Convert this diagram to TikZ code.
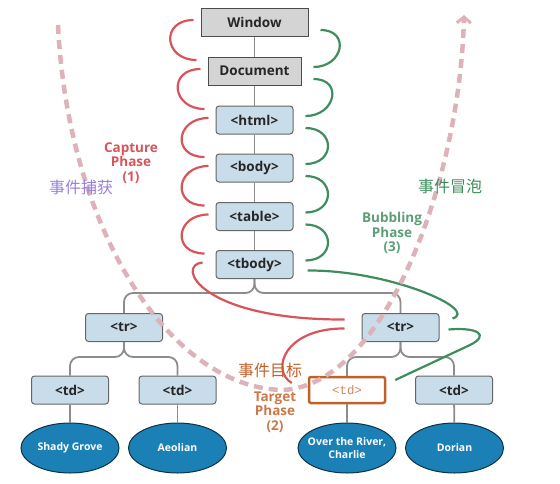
\documentclass[tikz,border=0pt]{standalone}
\usepackage{fontspec}
\setmainfont{Open Sans}
\setmonofont{Liberation Mono}
\newfontfamily\cjk{Noto Sans CJK SC}
\usetikzlibrary{shapes.geometric,arrows.meta}
\definecolor{capred}{HTML}{D9535A}
\definecolor{bubgreen}{HTML}{3F8D5E}
\definecolor{linegray}{HTML}{8C8C8C}
\definecolor{boxblue}{HTML}{C9DCEA}
\definecolor{boxgray}{HTML}{D4D4D4}
\definecolor{leafblue}{HTML}{1B80B5}
\definecolor{targetorange}{HTML}{C2602A}
\definecolor{flowpink}{HTML}{DDB2B8}
\definecolor{purplelabel}{HTML}{9A80E0}
\begin{document}
\begin{tikzpicture}[x=1pt,y=-1pt,
    winbox/.style={draw=black!70,fill=boxgray,line width=1pt,minimum height=28pt,
      text=black!85,font=\bfseries\fontsize{13.5}{15}\selectfont},
    tagbox/.style={draw=black!60,fill=boxblue,line width=1pt,rounded corners=3pt,
      minimum width=77pt,minimum height=28pt,text=black!85,
      font=\bfseries\fontsize{13.5}{15}\selectfont},
    target/.style={draw=targetorange,fill=white,line width=2.5pt,rounded corners=2pt,
      minimum width=76pt,minimum height=26pt,text=targetorange!75,
      font=\ttfamily\fontsize{12.5}{14}\selectfont},
    leaf/.style={ellipse,draw=black!60!leafblue,fill=leafblue,line width=1pt,
      minimum width=98pt,minimum height=50pt,inner xsep=-6pt,inner ysep=2pt,
      text=white,align=center,font=\bfseries\fontsize{10.5}{13}\selectfont},
    conn/.style={draw=linegray,line width=1.8pt,rounded corners=9pt},
    capture/.style={draw=capred,line width=2.2pt},
    bubble/.style={draw=bubgreen,line width=2.2pt},
    flow/.style={draw=flowpink,line width=4.5pt,dash pattern=on 9pt off 6pt,
      -{Straight Barb[length=6pt,width=14pt,line width=3pt]}},
    phase/.style={align=center,font=\bfseries\fontsize{13.5}{14.5}\selectfont},
    cjklabel/.style={font=\cjk\fontsize{16}{18}\selectfont}]
  \useasboundingbox (0,0) rectangle (560,483);
  % tree
  \node[winbox,minimum width=107pt] (win) at (254.5,22) {Window};
  \node[winbox,minimum width=93pt] (doc) at (254.5,71) {Document};
  \node[tagbox] (html) at (254.5,120) {<html>};
  \node[tagbox] (body) at (254.5,168) {<body>};
  \node[tagbox] (table) at (254.5,216.5) {<table>};
  \node[tagbox] (tbody) at (254.5,264.5) {<tbody>};
  \node[tagbox] (ltr) at (124,327.5) {<tr>};
  \node[tagbox] (rtr) at (400.5,327.5) {<tr>};
  \node[tagbox] (ltd) at (70,390) {<td>};
  \node[tagbox] (mtd) at (177.5,390) {<td>};
  \node[target] (ttd) at (347,390) {<td>};
  \node[tagbox] (rtd) at (454,390) {<td>};
  \node[leaf] (shady) at (70,448) {Shady Grove};
  \node[leaf] (aeolian) at (177.5,448) {Aeolian};
  \node[leaf] (river) at (347,448) {Over the River,\\Charlie};
  \node[leaf] (dorian) at (454.5,448) {Dorian};
  \begin{scope}[conn]
    \draw (win) -- (doc);
    \draw (doc) -- (html);
    \draw (html) -- (body);
    \draw (body) -- (table);
    \draw (table) -- (tbody);
    \draw (tbody.south) -- ++(0,14) -| (ltr.north);
    \draw (tbody.south) -- ++(0,14) -| (rtr.north);
    \draw (ltr.south) -- ++(0,15) -| (ltd.north);
    \draw (ltr.south) -- ++(0,15) -| (mtd.north);
    \draw (rtr.south) -- ++(0,15) -| (ttd.north);
    \draw (rtr.south) -- ++(0,15) -| (rtd.north);
    \draw (ltd) -- (shady);
    \draw (mtd) -- (aeolian);
    \draw (ttd) -- (river);
    \draw (rtd) -- (dorian);
  \end{scope}
  % capture loops
  \foreach \a/\b in {win/doc,doc/html,html/body,body/table,table/tbody}
    \draw[capture] ([xshift=-7pt,yshift=2pt]\a.west) .. controls +(-33,0) and +(-33,0)
      .. ([xshift=-11pt,yshift=11pt]\b.west);
  \draw[capture] ([xshift=-13pt,yshift=2pt]tbody.west) .. controls (175,265) and (200,320)
    .. ([xshift=-17pt,yshift=8pt]rtr.west);
  \draw[capture] ([xshift=-17pt,yshift=-1pt]rtr.west) .. controls (285,328) and (270,370)
    .. ([xshift=-16pt,yshift=7pt]ttd.west);
  % bubbling loops
  \foreach \a/\b in {win/doc,doc/html,html/body,body/table,table/tbody}
    \draw[bubble] ([xshift=12pt,yshift=-8pt]\a.east) .. controls +(30,0) and +(30,0)
      .. ([xshift=12pt,yshift=4pt]\b.east);
  \draw[bubble] ([xshift=14pt,yshift=-6pt]tbody.east) .. controls (390,270) and (480,310)
    .. ([xshift=13pt,yshift=9pt]rtr.east);
  \draw[bubble] ([xshift=9pt,yshift=-2pt]rtr.east) .. controls (478,327) and (490,335)
    .. (470,345) -- ([xshift=9pt,yshift=10pt]ttd.east);
  % event path
  \coordinate (capstart) at (58,25);
  \coordinate (lowest) at (283,390);
  \coordinate (bubend) at (464,15);
  \draw[flow] (capstart) .. controls (68,230) and (170,388) .. (lowest)
    .. controls (385,385) and (460,180) .. (bubend);
  % labels
  \node[phase,text=capred] (capl) at (131,163) {Capture\\Phase\\(1)};
  \node[phase,text=bubgreen!85!white] (bubl) at (392,233) {Bubbling\\Phase\\(3)};
  \node[phase,text=targetorange!85!white] (tarl) at (275,412) {Target\\Phase\\(2)};
  \node[cjklabel,text=purplelabel] (capcn) at (81,187) {事件捕获};
  \node[cjklabel,text=bubgreen] (bubcn) at (450,186) {事件冒泡};
  \node[cjklabel,text=targetorange] (tarcn) at (270,370) {事件目标};
\end{tikzpicture}
\end{document}
